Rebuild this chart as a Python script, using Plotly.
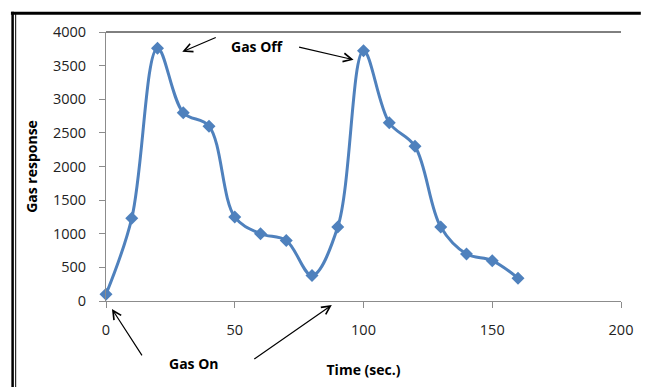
import plotly.graph_objects as go

time_s = [0, 10, 20, 30, 40, 50, 60, 70, 80, 90, 100, 110, 120, 130, 140, 150, 160]
gas_response = [100, 1230, 3760, 2800, 2600, 1250, 1000, 900, 380, 1100, 3720, 2650, 2300, 1100, 700, 600, 340]

x_ticks = [0, 50, 100, 150, 200]
y_ticks = [0, 500, 1000, 1500, 2000, 2500, 3000, 3500, 4000]

W, H = 645, 387
L, R, T, B = 106, 19, 32, 84
PW, PH = W - L - R, H - T - B

def px(xp):
    return (xp - L) / PW

def py(yp):
    return (H - B - yp) / PH

font_fam = "Open Sans"
fig = go.Figure()
fig.add_trace(go.Scatter(
    x=time_s, y=gas_response, mode="lines+markers",
    line=dict(color="#4F81BD", width=3, shape="spline", smoothing=1),
    marker=dict(symbol="diamond", size=10, color="#4F81BD"),
    cliponaxis=False, showlegend=False,
))

fig.update_layout(
    width=W, height=H,
    margin=dict(l=L, r=R, t=T, b=B, pad=0),
    paper_bgcolor="white", plot_bgcolor="white",
    font=dict(family=font_fam, size=14.5, color="#222222"),
    xaxis=dict(range=[0, 200], tickvals=x_ticks, showgrid=False, zeroline=False,
               showline=True, linecolor="#8C8C8C", linewidth=1,
               ticks="outside", ticklen=6, tickcolor="#8C8C8C", ticklabelstandoff=10,
               title=dict(text="<b>Time (sec.)</b>", standoff=26,
                          font=dict(family=font_fam, size=14, color="#000"))),
    yaxis=dict(range=[0, 4000], tickvals=y_ticks, showgrid=False, zeroline=False,
               showline=True, linecolor="#8C8C8C", linewidth=1,
               ticks="outside", ticklen=6, tickcolor="#8C8C8C", ticklabelstandoff=10,
               title=dict(text="<b>Gas response</b>", standoff=12,
                          font=dict(family=font_fam, size=14, color="#000"))),
)

shapes = [
    # top line at 4000
    dict(type="line", xref="paper", yref="paper", x0=0, x1=1, y0=1, y1=1,
         line=dict(color="#000", width=1)),
    # frame top
    dict(type="line", xref="paper", yref="paper", x0=px(10), x1=px(646), y0=py(13), y1=py(13),
         line=dict(color="#000", width=3)),
    # frame left thick
    dict(type="line", xref="paper", yref="paper", x0=px(11.7), x1=px(11.7), y0=py(11.5), y1=py(390),
         line=dict(color="#000", width=2.5)),
    # frame left thin
    dict(type="line", xref="paper", yref="paper", x0=px(14.8), x1=px(14.8), y0=py(14), y1=py(390),
         line=dict(color="#000", width=1)),
]
fig.update_layout(shapes=shapes)

def arrow(x_head, y_head, x_tail, y_tail):
    return dict(xref="paper", yref="paper", axref="pixel", ayref="pixel",
                x=px(x_head), y=py(y_head), ax=x_tail - x_head, ay=y_tail - y_head,
                text="", showarrow=True, arrowhead=5, arrowsize=1.4, arrowwidth=1.2,
                arrowcolor="#000")

annotations = [
    dict(xref="paper", yref="paper", x=px(258), y=py(47), text="<b>Gas Off</b>", showarrow=False,
         font=dict(family=font_fam, size=14, color="#000"), xanchor="center", yanchor="middle"),
    dict(xref="paper", yref="paper", x=px(195), y=py(366), text="<b>Gas On</b>", showarrow=False,
         font=dict(family=font_fam, size=14, color="#000"), xanchor="center", yanchor="middle"),
    arrow(183, 52, 218, 37),
    arrow(356, 60, 300, 47),
    arrow(112, 311, 143, 359),
    arrow(334, 307, 255, 362),
]
fig.update_layout(annotations=annotations)

fig.write_html("out.html")
